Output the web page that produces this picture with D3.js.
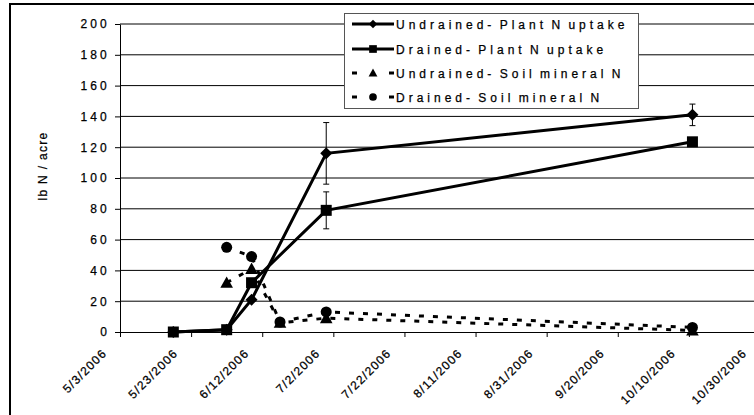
<!DOCTYPE html>
<html><head><meta charset="utf-8">
<script src="https://cdn.jsdelivr.net/npm/d3@7"></script>
<style>
body{margin:0;background:#fff;}
svg{display:block;}
text{font-family:"Liberation Sans",Arial,sans-serif;fill:#000;stroke:#000;stroke-width:0.25px;}
</style>
</head><body>
<svg id="chart" width="754" height="415"></svg>
<script>
// ---- data ----
const plantDates = ["5/18/2006","6/2/2006","6/9/2006","6/30/2006","10/11/2006"];
const undrainedPlant = [0, 1.5, 21, 116, 141];
const undrainedPlantErr = [0, 0, 0, 20, 7];
const drainedPlant = [0, 1.5, 32, 79, 123.5];
const drainedPlantErr = [0, 0, 0, 12, 2];
const soilDates = ["6/2/2006","6/9/2006","6/17/2006","6/30/2006","10/11/2006"];
const undrainedSoil = [32, 41, 6, 9, 1];
const drainedSoil = [55, 49, 6.5, 13, 3];
const xTickLabels = ["5/3/2006","5/23/2006","6/12/2006","7/2/2006","7/22/2006","8/11/2006","8/31/2006","9/20/2006","10/10/2006","10/30/2006"];
const yTicks = [0,20,40,60,80,100,120,140,160,180,200];
const seriesNames = ["Undrained- Plant N uptake","Drained- Plant N uptake","Undrained- Soil mineral N","Drained- Soil mineral N"];
const yTitle = "lb N / acre";

const parse = d3.utcParse("%m/%d/%Y");
const svg = d3.select("#chart");

const x = d3.scaleUtc()
  .domain([parse(xTickLabels[0]), parse(xTickLabels[xTickLabels.length-1])])
  .range([120, 760]);
const y = d3.scaleLinear().domain([0,200]).range([332,24]);

// outer frame (cropped)
svg.append("path").attr("d","M10,415V4H754").attr("fill","none").attr("stroke","#000").attr("stroke-width",2);

// gridlines
svg.append("g").selectAll("line").data(yTicks.filter(d=>d>0)).join("line")
  .attr("x1",120).attr("x2",760).attr("y1",d=>y(d)).attr("y2",d=>y(d))
  .attr("stroke","#000").attr("stroke-width",1);

// y axis
const ya = svg.append("g").attr("transform","translate(120,0)")
  .call(d3.axisLeft(y).tickValues(yTicks).tickSize(5).tickSizeOuter(0).tickPadding(5));
ya.select(".domain").attr("stroke","#000");
ya.selectAll(".tick line").attr("stroke","#000");
ya.selectAll(".tick text").attr("font-size",12).attr("letter-spacing",3.2).attr("font-family",null);

// x axis
const xa = svg.append("g").attr("transform","translate(0,332)")
  .call(d3.axisBottom(x).tickValues(xTickLabels.map(parse)).tickSize(5).tickSizeOuter(0)
    .tickFormat((d,i)=>xTickLabels[i]));
xa.select(".domain").attr("stroke","#000");
xa.selectAll(".tick line").attr("stroke","#000");
xa.selectAll(".tick text").attr("font-size",12).attr("letter-spacing",1.2).attr("font-family",null)
  .attr("text-anchor","end").attr("x",0).attr("y",0).attr("dy",null)
  .attr("transform","translate(-13,22) rotate(-45)");

// y title
svg.append("text").attr("transform","translate(47,166) rotate(-90)")
  .attr("text-anchor","middle").attr("font-size",12).attr("letter-spacing",1.3).text(yTitle);

// marker shapes
function markerPath(type, s){
  if(type==="diamond") return `M0,${-s}L${s},0L0,${s}L${-s},0Z`;
  if(type==="square") return `M${-s},${-s}H${s}V${s}H${-s}Z`;
  if(type==="triangle") return `M0,${-s*1.05}L${s*1.05},${s*0.85}L${-s*1.05},${s*0.85}Z`;
  return d3.arc()({innerRadius:0,outerRadius:s,startAngle:0,endAngle:2*Math.PI});
}

const series = [
  {dates:plantDates, vals:undrainedPlant, err:undrainedPlantErr, marker:"diamond", size:6, dash:null},
  {dates:plantDates, vals:drainedPlant, err:drainedPlantErr, marker:"square", size:5.5, dash:null},
  {dates:soilDates, vals:undrainedSoil, err:null, marker:"triangle", size:6, dash:"5,9"},
  {dates:soilDates, vals:drainedSoil, err:null, marker:"circle", size:5.5, dash:"5,9"}
];

const line = d3.line().x(d=>x(d[0])).y(d=>y(d[1]));
series.forEach(s=>{
  const pts = s.dates.map((d,i)=>[parse(d), s.vals[i], s.err? s.err[i]:0]);
  const g = svg.append("g");
  if(s.err){
    pts.filter(p=>p[2]>0).forEach(p=>{
      const cx = x(p[0]);
      g.append("path").attr("d",`M${cx},${y(p[1]+p[2])}V${y(p[1]-p[2])}M${cx-3},${y(p[1]+p[2])}H${cx+3}M${cx-3},${y(p[1]-p[2])}H${cx+3}`)
        .attr("stroke","#000").attr("stroke-width",1).attr("fill","none");
    });
  }
  g.append("path").datum(pts).attr("d",line).attr("fill","none").attr("stroke","#000")
    .attr("stroke-width",3).attr("stroke-dasharray",s.dash);
  g.selectAll(".m").data(pts).join("path").attr("class","m")
    .attr("transform",p=>`translate(${x(p[0])},${y(p[1])})`)
    .attr("d",markerPath(s.marker,s.size)).attr("fill","#000");
});

// legend
const lg = svg.append("g");
lg.append("rect").attr("x",344.5).attr("y",13.5).attr("width",294).attr("height",95)
  .attr("fill","#fff").attr("stroke","#555").attr("stroke-width",1);
const rowY = [24,49,73,97];
series.forEach((s,i)=>{
  const ry = rowY[i];
  lg.append("line").attr("x1",352).attr("x2",394).attr("y1",ry).attr("y2",ry)
    .attr("stroke","#000").attr("stroke-width",3).attr("stroke-dasharray",s.dash?"5,32,5":null);
  lg.append("path").attr("transform",`translate(373,${ry})`).attr("d",markerPath(s.marker,s.size*0.7)).attr("fill","#000");
  lg.append("text").attr("x",396).attr("y",ry+4.5).attr("font-size",12).attr("letter-spacing",4)
    .attr("word-spacing",-3).text(seriesNames[i]);
});
</script>
</body></html>
